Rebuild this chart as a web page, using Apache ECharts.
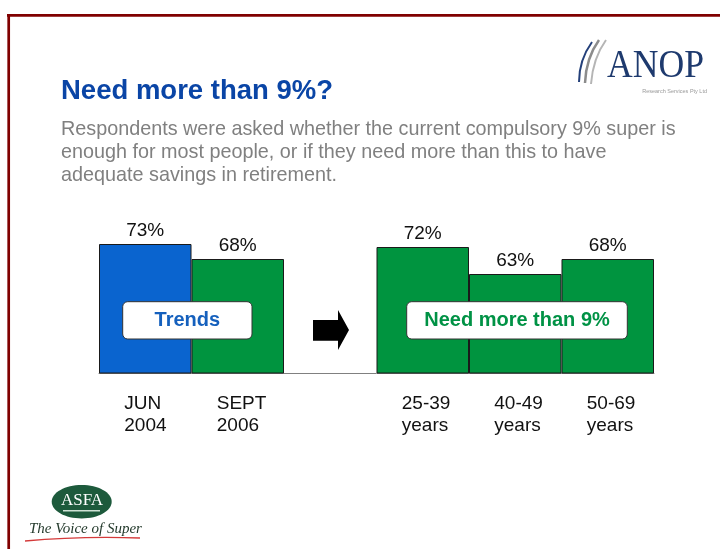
<!DOCTYPE html>
<html>
<head>
<meta charset="utf-8">
<title>Need more than 9%?</title>
<script src="https://cdn.jsdelivr.net/npm/echarts@6/dist/echarts.min.js"></script>
<style>
  html, body { margin: 0; padding: 0; background: #ffffff; }
  #chart { width: 720px; height: 549px; }
</style>
</head>
<body>
<div id="chart"></div>
<script>
// Survey results: share saying 9% compulsory super is not enough
const trendPeriods = ['JUN\n2004', 'SEPT\n2006'];
const trendShares = [73, 68];
const ageGroups = ['25-39\nyears', '40-49\nyears', '50-69\nyears'];
const ageShares = [72, 63, 68];

const SANS = '"Liberation Sans", Arial, Helvetica, sans-serif';
const SERIF = '"Liberation Serif", "Times New Roman", serif';
const BLUE = '#0a64cf';
const GREEN = '#00943f';
const MAROON = '#800000';

// an empty slot separates the two groups (the arrow sits there)
const categories = [...trendPeriods, '', ...ageGroups];
const values = [...trendShares, '-', ...ageShares];

const chart = echarts.init(document.getElementById('chart'), null, { renderer: 'canvas' });

chart.setOption({
  animation: false,
  backgroundColor: '#ffffff',
  grid: { left: 99, right: 66, top: 163, bottom: 176 },
  xAxis: {
    type: 'category',
    data: categories,
    axisLine: { show: true, lineStyle: { color: '#808080', width: 1 } },
    axisTick: { show: false },
    axisLabel: {
      interval: 0,
      margin: 20,
      formatter: v => v ? v.split('\n').map(s => '{l|' + s + '}').join('\n') : '',
      rich: {
        l: { width: 42, align: 'left', fontSize: 19, lineHeight: 22, color: '#111111', fontFamily: SANS }
      }
    }
  },
  yAxis: {
    type: 'value',
    min: 30,
    max: 100,
    show: false,
    splitLine: { show: false }
  },
  series: [{
    type: 'bar',
    data: values,
    barCategoryGap: '0%',
    itemStyle: {
      color: p => (p.dataIndex === 0 ? BLUE : GREEN),
      borderColor: '#1a1a1a',
      borderWidth: 1
    },
    label: {
      show: true,
      position: 'top',
      distance: 4,
      formatter: '{c}%',
      fontSize: 19,
      color: '#111111',
      fontFamily: SANS
    }
  }],
  graphic: [
    // slide frame
    { type: 'line', z: 100, shape: { x1: 7, y1: 15.3, x2: 720, y2: 15.3 }, style: { stroke: MAROON, lineWidth: 2.7 } },
    { type: 'line', z: 100, shape: { x1: 8.7, y1: 14, x2: 8.7, y2: 549 }, style: { stroke: MAROON, lineWidth: 2.7 } },

    // heading and intro text
    { type: 'text', z: 100, left: 61, top: 77,
      style: { text: 'Need more than 9%?', font: 'bold 27.5px ' + SANS, fill: '#0a45a6' } },
    { type: 'text', z: 100, left: 61, top: 118,
      style: {
        text: 'Respondents were asked whether the current compulsory 9% super is\nenough for most people, or if they need more than this to have\nadequate savings in retirement.',
        font: '19.8px ' + SANS, fill: '#808080', lineHeight: 23
      } },

    // group captions
    { type: 'rect', z: 100, shape: { x: 122.7, y: 301.7, width: 129.3, height: 37.3, r: 5 },
      style: { fill: '#ffffff', stroke: '#333333', lineWidth: 1 } },
    { type: 'text', z: 101, x: 187.3, y: 320.5,
      style: { text: 'Trends', font: 'bold 20px ' + SANS, fill: '#1560bd', align: 'center', verticalAlign: 'middle' } },
    { type: 'rect', z: 100, shape: { x: 406.7, y: 301.7, width: 220.6, height: 37.3, r: 5 },
      style: { fill: '#ffffff', stroke: '#333333', lineWidth: 1 } },
    { type: 'text', z: 101, x: 517, y: 320.5,
      style: { text: 'Need more than 9%', font: 'bold 20px ' + SANS, fill: '#009245', align: 'center', verticalAlign: 'middle' } },

    // block arrow between the groups
    { type: 'polygon', z: 100,
      shape: { points: [[313, 320], [338, 320], [338, 310], [349, 330], [338, 350], [338, 340.7], [313, 340.7]] },
      style: { fill: '#000000' } },

    // ANOP logo
    { type: 'bezierCurve', z: 100, shape: { x1: 579, y1: 82, cpx1: 579, cpy1: 60, x2: 592, y2: 42 },
      style: { stroke: '#24407a', lineWidth: 2, fill: null } },
    { type: 'bezierCurve', z: 100, shape: { x1: 585, y1: 83, cpx1: 586, cpy1: 58, x2: 599, y2: 40 },
      style: { stroke: '#8c8c8c', lineWidth: 2.5, fill: null } },
    { type: 'bezierCurve', z: 100, shape: { x1: 591, y1: 84, cpx1: 593, cpy1: 58, x2: 606, y2: 40 },
      style: { stroke: '#b5b5b5', lineWidth: 2, fill: null } },
    { type: 'text', z: 100, x: 607, y: 66, scaleX: 0.89, originX: 0, originY: 0,
      style: { text: 'ANOP', font: '40px ' + SERIF, fill: '#1e3a6e', verticalAlign: 'middle' } },
    { type: 'text', z: 100, x: 707, y: 91,
      style: { text: 'Research Services Pty Ltd', font: '5.5px ' + SANS, fill: '#999999', align: 'right', verticalAlign: 'middle' } },

    // ASFA logo
    { type: 'ellipse', z: 100, shape: { cx: 81.7, cy: 501.7, rx: 30, ry: 16.7 }, style: { fill: '#1d5a3c' } },
    { type: 'text', z: 101, x: 82, y: 501,
      style: { text: 'ASFA', font: '17px ' + SERIF, fill: '#ffffff', align: 'center', verticalAlign: 'middle' } },
    { type: 'line', z: 101, shape: { x1: 63, y1: 510.7, x2: 100, y2: 510.7 }, style: { stroke: '#cfe3d6', lineWidth: 1.5 } },
    { type: 'text', z: 100, x: 29, y: 529,
      style: { text: 'The Voice of Super', font: 'italic 15px ' + SERIF, fill: '#243a2c', verticalAlign: 'middle' } },
    { type: 'bezierCurve', z: 100, shape: { x1: 25, y1: 541, cpx1: 80, cpy1: 536, x2: 140, y2: 538 },
      style: { stroke: '#d43a3a', lineWidth: 1.3, fill: null } }
  ]
});
</script>
</body>
</html>
